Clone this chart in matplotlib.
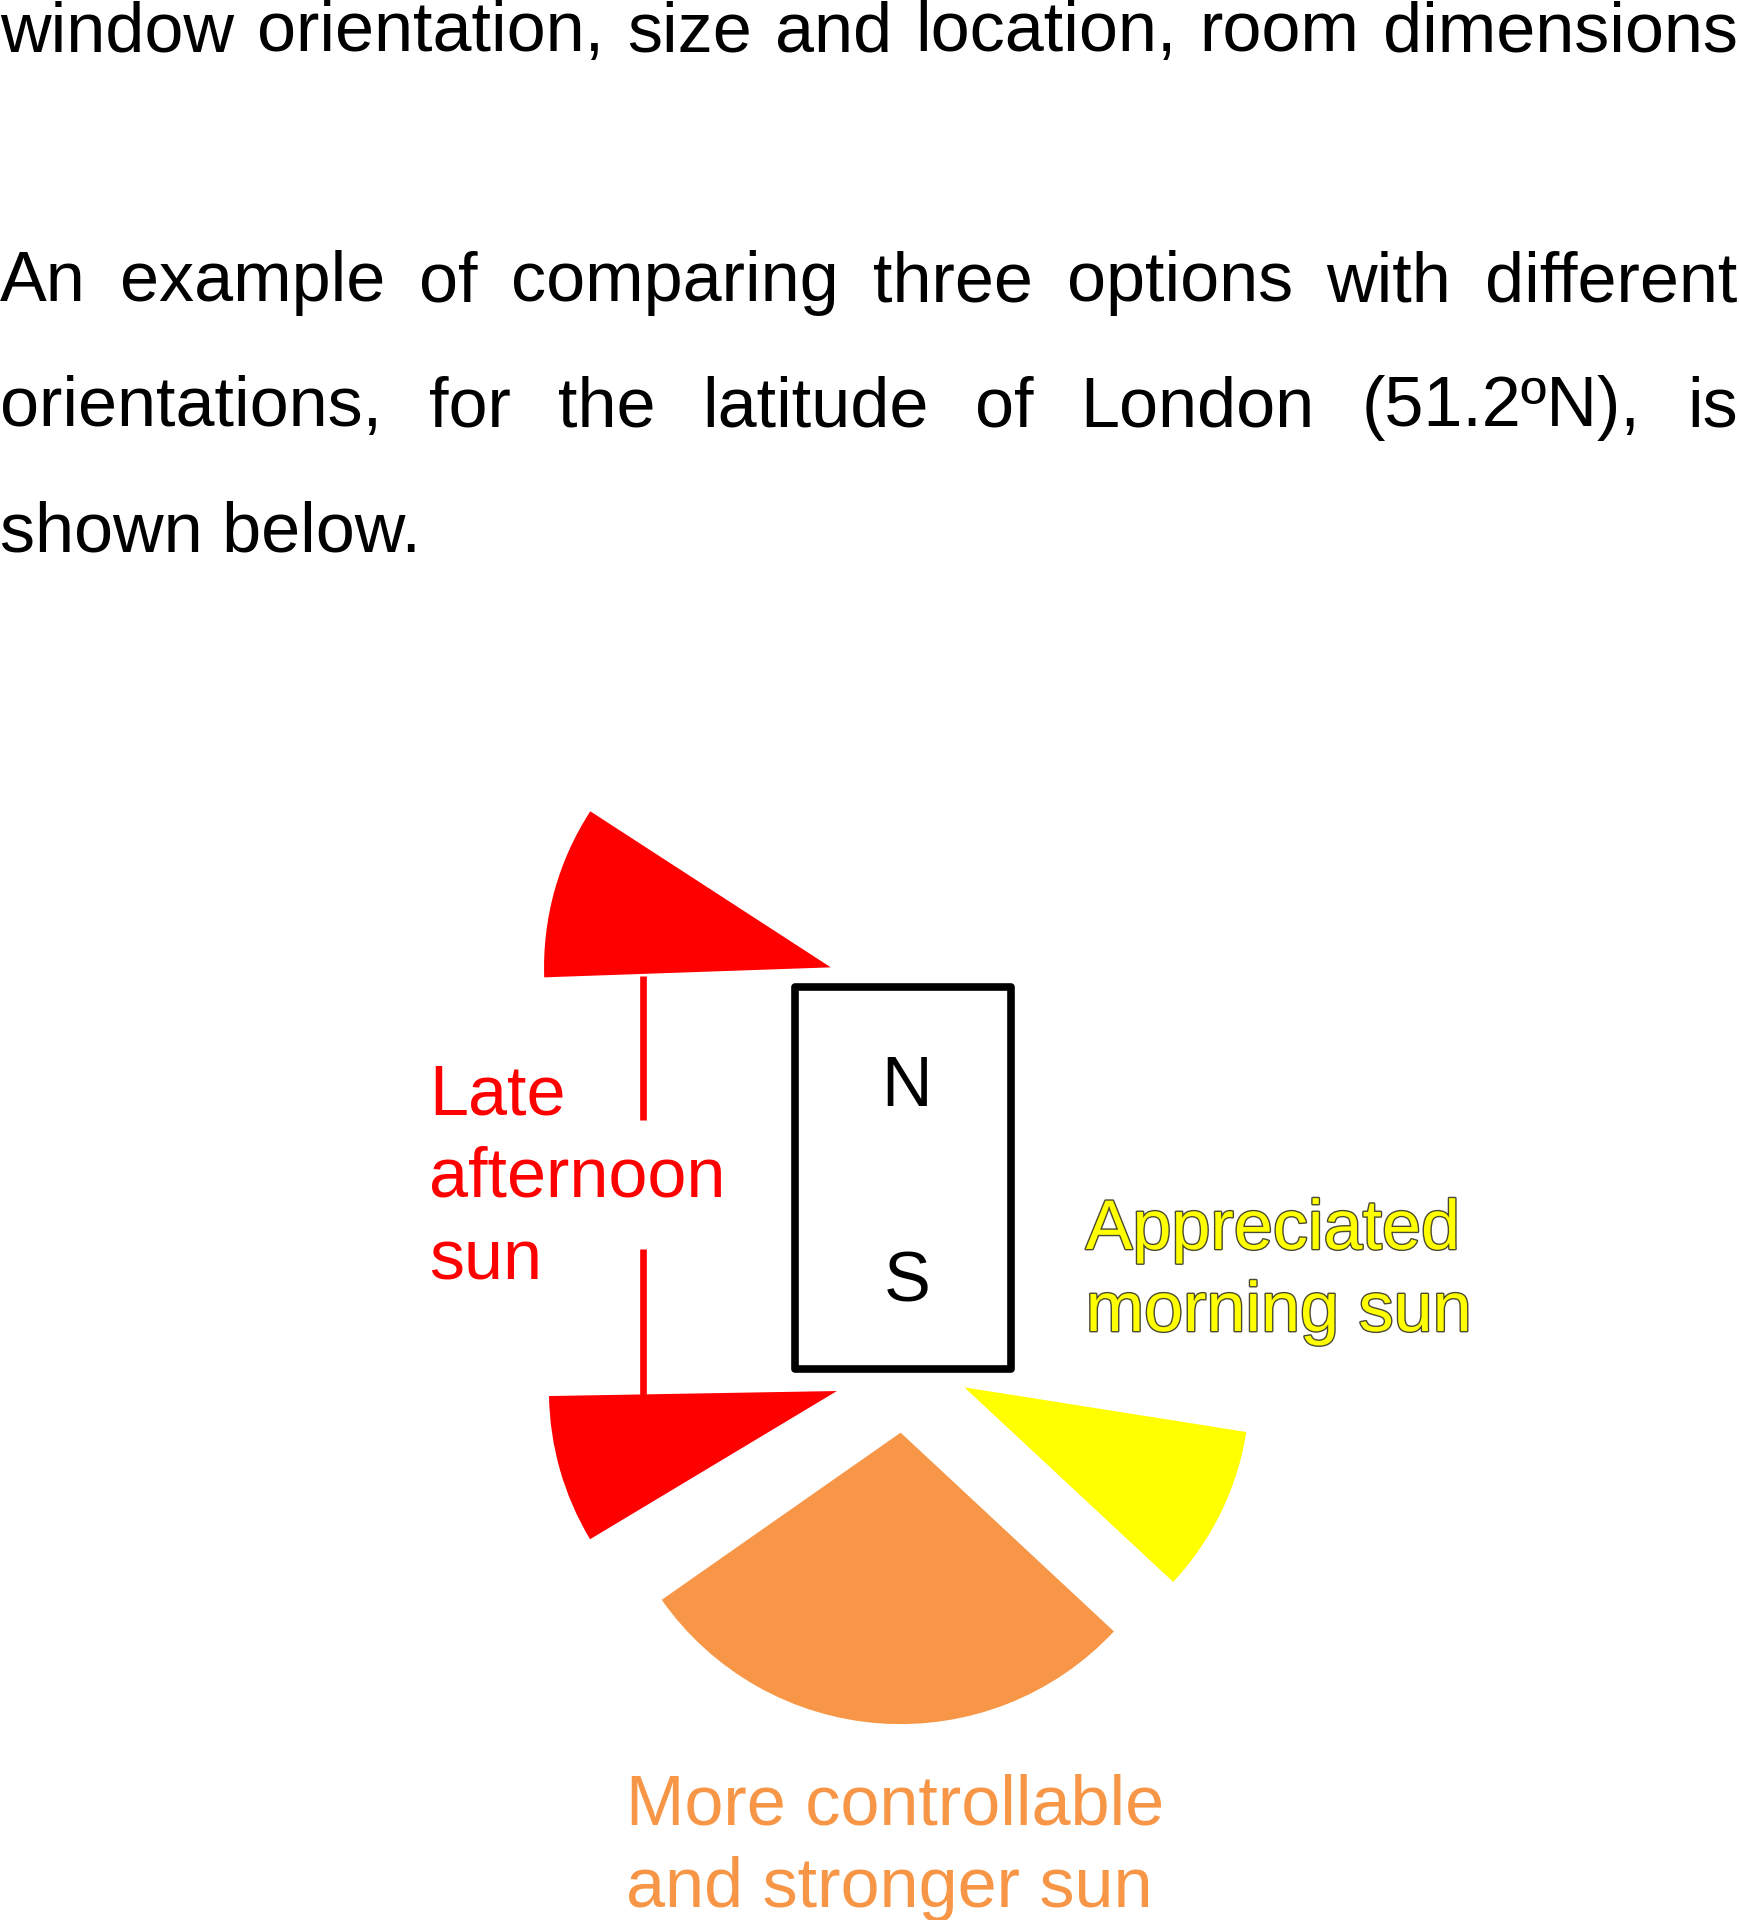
import matplotlib
matplotlib.use("Agg")
from matplotlib import pyplot as plt
from matplotlib.patches import Wedge, Rectangle
import matplotlib.patheffects as pe

# page is laid out in the coordinates of the reference (x right, y down)
W, H = 1420, 1568

# paragraph text, one entry per rendered line; True = justified line
body_lines = [
    "window orientation, size and location, room dimensions",
    "An example of comparing three options with different",
    "orientations, for the latitude of London (51.2ºN), is",
    "shown below.",
]
body_justified = [True, True, True, False]
body_baselines = [42, 246, 348, 450]

# sun sectors: angular range in degrees (counter-clockwise from east)
sector_names = ["late_pm_top", "late_pm_bottom", "south", "morning"]
sector_start = [147, 181, 215, 317]
sector_end = [182, 211, 317, 351]
sector_colors = ["#ff0000", "#ff0000", "#f79646", "#ffff00"]
sector_centers = [(678, 790), (683, 1136), (735, 1170), (787, 1133)]
sector_radius = [234, 235, 238, 233]

room_labels = ["N", "S"]

FONT = "Liberation Sans"
FS = 50.5

fig = plt.figure(figsize=(17.4, 19.2), dpi=100)
ax = fig.add_axes([0, 0, 1, 1])
ax.set_xlim(0, W)
ax.set_ylim(H, 0)
ax.axis("off")

renderer = fig.canvas.get_renderer()
px_to_data = W / (fig.get_figwidth() * fig.dpi)


def justified(words, y, x0, x1, **kw):
    texts = [ax.text(0, y, w, va="baseline", ha="left", **kw) for w in words]
    widths = [t.get_window_extent(renderer).width * px_to_data for t in texts]
    gap = (x1 - x0 - sum(widths)) / max(len(words) - 1, 1)
    x = x0
    for t, w in zip(texts, widths):
        t.set_x(x)
        x += w + gap


for line, just, yb in zip(body_lines, body_justified, body_baselines):
    if just:
        justified(line.split(" "), yb, 0, 1418, family=FONT, fontsize=FS, color="black")
    else:
        ax.text(0, yb, line, va="baseline", ha="left", family=FONT, fontsize=FS, color="black")

# sun sectors (angles flipped because the y axis points down)
for c, r, t1, t2, col in zip(sector_centers, sector_radius, sector_start, sector_end, sector_colors):
    ax.add_patch(Wedge(c, r, -t2, -t1, facecolor=col, edgecolor="none"))

# red connector lines for the late afternoon sun
ax.plot([525, 525], [797, 915], color="#ff0000", lw=4.8, solid_capstyle="butt")
ax.plot([525, 525], [1020, 1140], color="#ff0000", lw=4.8, solid_capstyle="butt")

# the room
ax.add_patch(Rectangle((649, 806), 176, 312, facecolor="white", edgecolor="black",
                       lw=5.5, joinstyle="round"))
ax.text(740, 903, room_labels[0], ha="center", va="baseline", family=FONT, fontsize=FS)
ax.text(740, 1063, room_labels[1], ha="center", va="baseline", family=FONT, fontsize=FS)

# labels
for txt, yb in zip(["Late", "afternoon", "sun"], [910, 977, 1045]):
    ax.text(350, yb, txt, va="baseline", family=FONT, fontsize=FS, color="#ff0000")

for txt, yb in zip(["Appreciated", "morning sun"], [1020, 1087]):
    ax.text(886, yb, txt, va="baseline", family=FONT, fontsize=FS, color="#ffff00",
            path_effects=[pe.Stroke(linewidth=2.0, foreground="#4a4a30"), pe.Normal()])

for txt, yb in zip(["More controllable", "and stronger sun"], [1490, 1557]):
    ax.text(511, yb, txt, va="baseline", family=FONT, fontsize=FS, color="#f79646")

plt.savefig("out.png", dpi=100)
